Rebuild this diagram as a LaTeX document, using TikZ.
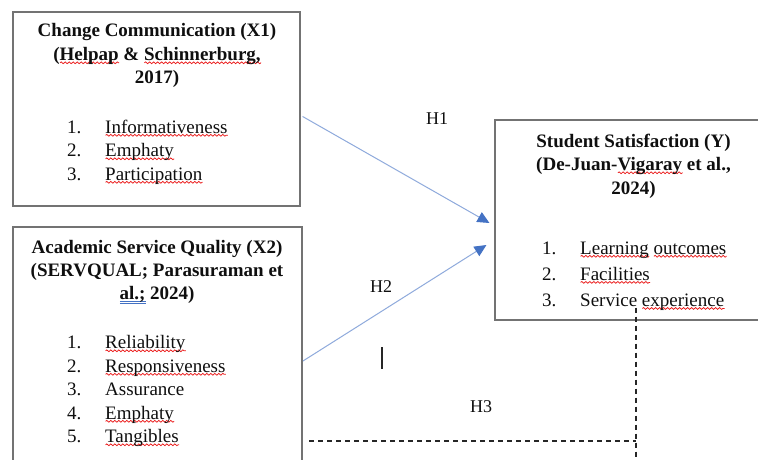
\documentclass[tikz,border=0pt]{standalone}
\usepackage{fontspec}
\setmainfont{Liberation Serif}
\usetikzlibrary{arrows.meta,calc,decorations.pathmorphing}
\definecolor{boxgray}{RGB}{115,115,115}
\definecolor{arrline}{HTML}{8FAADC}
\definecolor{arrtip}{HTML}{4472C4}
\definecolor{txtc}{RGB}{15,15,15}
\definecolor{spellred}{RGB}{235,25,25}
\newlength\rwdim
\newsavebox\rwbox
\newcommand\rw[1]{\sbox\rwbox{#1}\setlength\rwdim{\wd\rwbox}\leavevmode\rlap{\tikz[baseline=0pt]\draw[spellred, line width=0.75pt, decorate, decoration={snake, amplitude=0.9pt, segment length=4pt}] (0pt,-2.3pt) -- (\rwdim,-2.3pt);}\usebox\rwbox}
\newcommand\bdl[1]{\sbox\rwbox{#1}\setlength\rwdim{\wd\rwbox}\leavevmode\rlap{\tikz[baseline=0pt]{\draw[arrtip, line width=0.6pt] (0pt,-2.6pt) -- (\rwdim,-2.6pt); \draw[arrtip, line width=0.6pt] (0pt,-4.6pt) -- (\rwdim,-4.6pt);}}\usebox\rwbox}
\newcommand\nb[1]{\makebox[38pt][l]{#1}}
\tikzset{
  box/.style={draw=boxgray, line width=1.1pt, inner sep=0pt},
  ttl/.style={inner sep=0pt, anchor=base, text=txtc, font=\fontsize{19}{23.5}\selectfont\bfseries},
  lst/.style={inner sep=0pt, anchor=base west, text=txtc, font=\fontsize{19}{23.5}\selectfont},
  hlab/.style={inner sep=0pt, text=txtc, font=\fontsize{18}{20}\selectfont},
  harrow/.style={draw=arrline, line width=1pt, -{Triangle[length=12pt,width=11pt,color=arrtip]}},
  dsh/.style={draw=black!85, line width=1.3pt, dash pattern=on 5pt off 4pt}
}
\begin{document}
\begin{tikzpicture}[x=1pt,y=-1pt]
\clip (0,0) rectangle (758,460);
\fill[white] (0,0) rectangle (758,460);
% boxes
\node[box, minimum width=287pt, minimum height=194pt] (b1) at (156.5,109) {};
\node[box, minimum width=289pt, minimum height=253pt] (b2) at (157.5,353.5) {};
\node[box, minimum width=277pt, minimum height=200pt] (b3) at (633.5,220) {};
% box 1 text
\node[ttl] (t1) at (157,37) {\begin{tabular}[t]{@{}c@{}}Change Communication (X1)\\(\rw{Helpap} \& \rw{Schinnerburg,}\\2017)\end{tabular}};
\node[lst] (l1) at (67,133) {\begin{tabular}[t]{@{}l@{}}\nb{1.}\rw{Informativeness}\\\nb{2.}\rw{Emphaty}\\\nb{3.}\rw{Participation}\end{tabular}};
% box 2 text
\node[ttl] (t2) at (157,253.5) {\renewcommand\arraystretch{0.97}\begin{tabular}[t]{@{}c@{}}Academic Service Quality (X2)\\(SERVQUAL; Parasuraman et\\\bdl{al.;} 2024)\end{tabular}};
\node[lst] (l2) at (67,348.5) {\begin{tabular}[t]{@{}l@{}}\nb{1.}\rw{Reliability}\\\nb{2.}\rw{Responsiveness}\\\nb{3.}Assurance\\\nb{4.}\rw{Emphaty}\\\nb{5.}\rw{Tangibles}\end{tabular}};
% box 3 text
\node[ttl] (t3) at (633.5,147) {\begin{tabular}[t]{@{}c@{}}Student Satisfaction (Y)\\(De-Juan-\rw{Vigaray} et al.,\\2024)\end{tabular}};
\node[lst] (l3) at (542,254) {\renewcommand\arraystretch{1.11}\begin{tabular}[t]{@{}l@{}}\nb{1.}\rw{Learning} \rw{outcomes}\\\nb{2.}\rw{Facilities}\\\nb{3.}Service \rw{experience}\end{tabular}};
% arrows
\draw[harrow] ($(b1.north east)+(2,105)$) -- ($(b3.west)+(-5,3)$);
\draw[harrow] ($(b2.north east)+(0.5,134.5)$) -- ($(b3.west)+(-8,25)$);
% labels
\node[hlab] (h1) at (437,118.5) {H1};
\node[hlab] (h2) at (381,287) {H2};
\node[hlab] (h3) at (481,407) {H3};
% cursor bar
\draw[line width=1.3pt, black!85] (382,347) -- (382,369);
% dashed path
\coordinate (dtop) at ($(b3.south)+(2.5,-13)$);
\coordinate (dcorner) at (636,441);
\coordinate (dleft) at (309,441);
\coordinate (dbot) at (636,470);
\draw[dsh] (dleft) -- (dcorner);
\draw[dsh] (dtop) -- (dbot);
\end{tikzpicture}
\end{document}
